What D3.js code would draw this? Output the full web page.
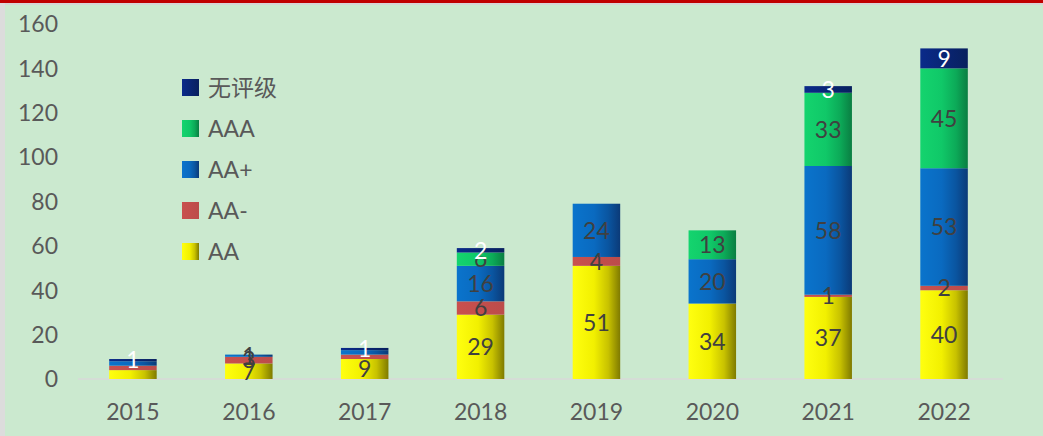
<!DOCTYPE html>
<html>
<head>
<meta charset="utf-8">
<script src="https://cdn.jsdelivr.net/npm/d3@7"></script>
<style>
  html, body { margin: 0; padding: 0; }
  body { width: 1043px; height: 436px; overflow: hidden; background: #cbe9cf; }
  svg { display: block; }
</style>
</head>
<body>
<svg id="chart" width="1043" height="436"></svg>
<script>
var years = ["2015", "2016", "2017", "2018", "2019", "2020", "2021", "2022"];
var seriesNames = ["AA", "AA-", "AA+", "AAA", "无评级"];
var aaValues   = [4, 7, 9, 29, 51, 34, 37, 40];
var aaMinus    = [2, 3, 2, 6, 4, 0, 1, 2];
var aaPlus     = [2, 1, 2, 16, 24, 20, 58, 53];
var aaaValues  = [0, 0, 0, 6, 0, 13, 33, 45];
var unrated    = [1, 0, 1, 2, 0, 0, 3, 9];
var yTicks = [0, 20, 40, 60, 80, 100, 120, 140, 160];
// labels Excel left off on the small bars
var hiddenLabels = ["2015|AA", "2015|AA-", "2015|AA+", "2017|AA-", "2017|AA+"];

var svg = d3.select("#chart");

// frame: red top line, grey left edge
svg.append("rect").attr("x", 0).attr("y", 0).attr("width", 1043).attr("height", 5).attr("fill", "#d6d6d6");
svg.append("rect").attr("x", 0).attr("y", 0).attr("width", 1043).attr("height", 3).attr("fill", "#c00000");
svg.append("rect").attr("x", 0).attr("y", 3).attr("width", 5).attr("height", 433).attr("fill", "#dcdcdc");

var defs = svg.append("defs");
const addGradient = function(id, stops) {
  var g = defs.append("linearGradient").attr("id", id)
    .attr("x1", "0%").attr("x2", "100%").attr("y1", "0%").attr("y2", "0%");
  stops.forEach(s => {
    g.append("stop").attr("offset", s[0]).attr("stop-color", s[1]);
  });
}
addGradient("g-aa", [["0%", "#ffff10"], ["45%", "#f2f000"], ["75%", "#c8c200"], ["100%", "#7f7a00"]]);
addGradient("g-aam", [["0%", "#c9504e"], ["100%", "#bc4c4a"]]);
addGradient("g-aap", [["0%", "#0a74cc"], ["45%", "#0a6ac0"], ["75%", "#0a55a0"], ["100%", "#0b3a78"]]);
addGradient("g-aaa", [["0%", "#14d46e"], ["45%", "#10c868"], ["75%", "#0caa58"], ["100%", "#0a7e42"]]);
addGradient("g-nr", [["0%", "#0a2a8a"], ["100%", "#08205e"]]);

var fills = ["url(#g-aa)", "url(#g-aam)", "url(#g-aap)", "url(#g-aaa)", "url(#g-nr)"];
var labelColors = ["#404040", "#404040", "#404040", "#404040", "#ffffff"];

var table = years.map((y, i) => ({
  year: y, "AA": aaValues[i], "AA-": aaMinus[i], "AA+": aaPlus[i], "AAA": aaaValues[i], "无评级": unrated[i]
}));
var stacked = d3.stack().keys(seriesNames)(table);

var x = d3.scaleBand().domain(years).range([75, 1002]).paddingInner(0.59).paddingOuter(0.295);
var y = d3.scaleLinear().domain([0, 160]).range([379, 24]);

var font = "Lato, 'Noto Sans', 'Noto Sans CJK SC', sans-serif";

// y axis labels
svg.append("g").selectAll("text").data(yTicks).join("text")
  .attr("x", 58).attr("y", d => y(d)).attr("dy", "0.36em")
  .attr("text-anchor", "end").attr("font-family", font).attr("font-size", 23)
  .attr("fill", "#595959").text(d => d);

// baseline
svg.append("line").attr("x1", 78).attr("x2", 1003).attr("y1", y(0)).attr("y2", y(0))
  .attr("stroke", "#d9d9d9").attr("stroke-width", 1.5);

// x axis labels
svg.append("g").selectAll("text").data(years).join("text")
  .attr("x", d => x(d) + x.bandwidth() / 2).attr("y", 412).attr("dy", "0.36em")
  .attr("text-anchor", "middle").attr("font-family", font).attr("font-size", 23)
  .attr("fill", "#595959").text(d => d);

// bars
var layers = svg.append("g").selectAll("g").data(stacked).join("g")
  .attr("fill", (d, i) => fills[i]);
layers.selectAll("rect").data(d => d.filter(p => p[1] > p[0])).join("rect")
  .attr("x", d => x(d.data.year)).attr("width", x.bandwidth())
  .attr("y", d => y(d[1])).attr("height", d => y(d[0]) - y(d[1]));

// value labels
svg.append("g").selectAll("g").data(stacked).join("g")
  .attr("fill", (d, i) => labelColors[i])
  .each(function(s) {
    d3.select(this).selectAll("text")
      .data(s.filter(p => p[1] > p[0] && !hiddenLabels.includes(p.data.year + "|" + s.key)))
      .join("text")
      .attr("x", d => x(d.data.year) + x.bandwidth() / 2)
      .attr("y", d => y((d[0] + d[1]) / 2)).attr("dy", "0.36em")
      .attr("text-anchor", "middle").attr("font-family", font).attr("font-size", 23)
      .text(d => d[1] - d[0]);
  });

// legend, top entry first
var legendOrder = seriesNames.slice().reverse();
var legend = svg.append("g").selectAll("g").data(legendOrder).join("g")
  .attr("transform", (d, i) => "translate(182," + (88 + i * 41) + ")");
legend.append("rect").attr("x", 0).attr("y", -9).attr("width", 17).attr("height", 17)
  .attr("fill", d => fills[seriesNames.indexOf(d)]);
legend.append("text").attr("x", 26).attr("y", 0).attr("dy", "0.36em")
  .attr("font-family", font).attr("font-size", 23).attr("fill", "#595959")
  .text(d => d);
</script>
</body>
</html>
